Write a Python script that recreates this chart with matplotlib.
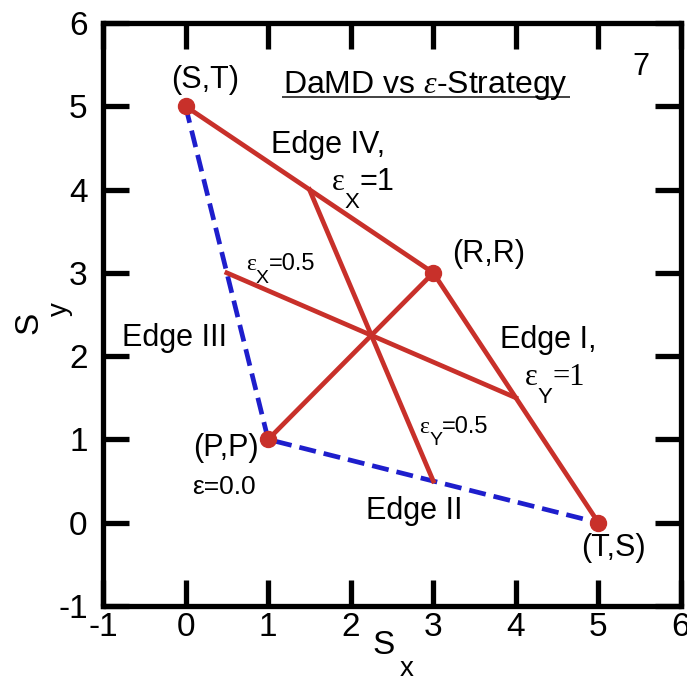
import matplotlib
matplotlib.use("Agg")
import matplotlib.pyplot as plt
import matplotlib.transforms as mtrans

plt.rcParams['font.family'] = ['Liberation Sans', 'DejaVu Sans']
plt.rcParams['axes.unicode_minus'] = False
plt.rcParams['mathtext.fontset'] = 'custom'
plt.rcParams['mathtext.rm'] = 'Liberation Sans'
plt.rcParams['mathtext.it'] = 'Liberation Serif:italic'

# Vertices of the payoff polygon
vert_names = ["(S,T)", "(R,R)", "(P,P)", "(T,S)"]
vert_x = [0, 3, 1, 5]
vert_y = [5, 3, 1, 0]

# Red (DaMD reachable) lines
edge_iv_i_x = [0, 3, 5]
edge_iv_i_y = [5, 3, 0]
diag_x = [1, 3]
diag_y = [1, 3]
epsx1_x = [1.5, 3]
epsx1_y = [4, 0.5]
epsx05_x = [0.5, 4]
epsx05_y = [3, 1.5]

# Blue dashed edges (III and II)
blue_x = [0, 1, 5]
blue_y = [5, 1, 0]

ticks = list(range(-1, 7))

RED = '#C8302A'
BLUE = '#1E1ECC'
SANS = ['Liberation Sans', 'DejaVu Sans']
SERIF = ['Liberation Serif', 'DejaVu Serif']

fig = plt.figure(figsize=(6.87, 6.83), dpi=100)
ax = fig.add_axes([103/687, 77/683, 578/687, 583/683])

ax.plot(blue_x, blue_y, color=BLUE, lw=3.4, dashes=(3.6, 1.7), zorder=2)
lw = 3.4
ax.plot(edge_iv_i_x, edge_iv_i_y, color=RED, lw=lw, zorder=3)
ax.plot(diag_x, diag_y, color=RED, lw=lw, zorder=3)
ax.plot(epsx1_x, epsx1_y, color=RED, lw=lw, zorder=3)
ax.plot(epsx05_x, epsx05_y, color=RED, lw=lw, zorder=3)
ax.plot(vert_x, vert_y, 'o', color=RED, ms=11.5, zorder=4, linestyle='none')

ax.set_xlim(-1, 6)
ax.set_ylim(-1, 6)
ax.set_xticks(ticks)
ax.set_yticks(ticks)
ax.tick_params(direction='in', length=19, width=3.8, labelsize=24,
               top=True, right=True)
ax.tick_params(axis='x', pad=4)
ax.tick_params(axis='y', pad=11)
for s in ax.spines.values():
    s.set_linewidth(3.8)

# axis labels with large, low subscripts
fig.text(384/687, 1 - 645/683, "S", fontsize=24, ha='center', va='center')
fig.text(407/687, 1 - 669/683, "x", fontsize=20, ha='center', va='center')
fig.text(29/687, 1 - 323/683, "S", fontsize=24, ha='center', va='center', rotation=90)
fig.text(60/687, 1 - 309/683, "y", fontsize=20, ha='center', va='center', rotation=90)

renderer = fig.canvas.get_renderer()


def chain(x, y, parts):
    xoff = 0.0
    for s, size, dy, fam in parts:
        tr = mtrans.offset_copy(ax.transData, fig=fig, x=xoff, y=dy, units='points')
        t = ax.text(x, y, s, fontsize=size, family=fam, transform=tr,
                    ha='left', va='baseline', zorder=5)
        xoff += t.get_window_extent(renderer).width * 72 / fig.dpi


fs = 22
txt = dict(ha='center', va='center', fontsize=fs)
ax.text(0.24, 5.31, "(S,T)", **txt)
ax.text(3.67, 3.23, "(R,R)", **txt)
ax.text(0.49, 0.90, "(P,P)", **txt)
ax.text(5.18, -0.30, "(T,S)", **txt)
ax.text(1.72, 4.53, "Edge IV,", **txt)
ax.text(-0.13, 2.22, "Edge III", **txt)
ax.text(4.39, 2.19, "Edge I,", **txt)
ax.text(2.77, 0.14, "Edge II", **txt)
ax.text(0.47, 0.43, "ε=0.0", ha='center', va='center', fontsize=19)

chain(1.77, 4.0, [("ε", 22, 0, SERIF), ("X", 16, -13, SANS), ("=1", 22, 0, SANS)])
chain(4.11, 1.65, [("ε", 22, 0, SERIF), ("Y", 16, -13, SANS), ("=1", 22, 0, SERIF)])
chain(2.83, 1.08, [("ε", 17, 0, SERIF), ("Y", 14, -9, SANS), ("=0.5", 17, 0, SANS)])
chain(0.73, 3.03, [("ε", 17, 0, SERIF), ("X", 14, -9, SANS), ("=0.5", 17, 0, SANS)])

ax.text(5.51, 5.47, "7", ha='center', va='center', fontsize=22)
ax.text(2.91, 5.16, r"DaMD vs $\it{ε}$-Strategy", ha='center', va='baseline', fontsize=23)
# underline of the title
ax.plot([1.17, 4.66], [5.11, 5.11], color='#333333', lw=1.3, solid_capstyle='butt')

fig.savefig("out.png", dpi=100)
